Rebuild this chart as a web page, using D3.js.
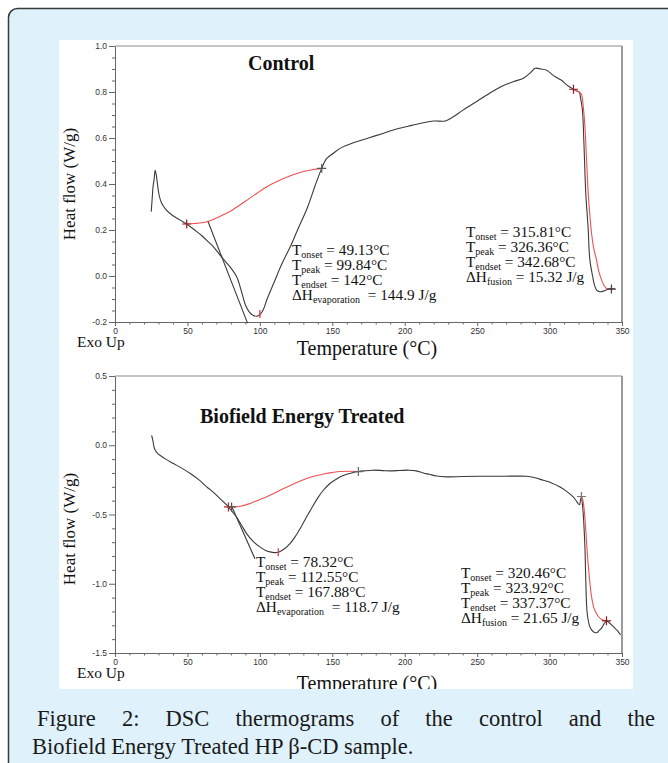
<!DOCTYPE html>
<html><head><meta charset="utf-8">
<script src="https://cdn.jsdelivr.net/npm/d3@7/dist/d3.min.js"></script>
<style>body{margin:0;background:#fff;overflow:hidden}</style>
</head><body><svg id="c" width="668" height="763"></svg>
<script>
// ---------- data ----------
const xTicks = [0, 50, 100, 150, 200, 250, 300, 350];
const topYTicks = [-0.2, 0.0, 0.2, 0.4, 0.6, 0.8, 1.0];
const botYTicks = [-1.5, -1.0, -0.5, 0.0, 0.5];

// Control thermogram [T (°C), heat flow (W/g)]
const controlCurve = [[25.0,0.28],[25.6,0.33],[26.3,0.39],[27.0,0.42],[27.7,0.46],[28.5,0.44],[29.3,0.40],[30.5,0.35],[32,0.32],[35,0.29],[40,0.262],[45,0.243],[49.5,0.226],[55,0.20],[60,0.175],[65,0.145],[68,0.127],[72,0.095],[76,0.065],[80,0.035],[84,-0.003],[87,-0.06],[90,-0.125],[92.5,-0.155],[95,-0.17],[98,-0.175],[100.5,-0.165],[102.5,-0.145],[105,-0.10],[110,-0.025],[115,0.05],[121,0.127],[126,0.20],[133,0.30],[138,0.39],[142.7,0.468],[146,0.51],[151,0.535],[156,0.557],[165,0.58],[175,0.60],[185,0.62],[195,0.64],[205,0.655],[212,0.665],[220,0.674],[228,0.674],[233,0.69],[240,0.72],[250,0.76],[260,0.80],[267,0.825],[275,0.845],[282,0.86],[287,0.885],[290,0.903],[294,0.90],[298,0.895],[303,0.87],[308,0.852],[312,0.83],[316.5,0.812],[318.5,0.805],[320.4,0.80],[321.5,0.77],[322.7,0.72],[323.7,0.58],[325,0.36],[326.6,0.21],[327.8,0.07],[329.7,0.0],[331,-0.04],[332.4,-0.06],[334,-0.067],[335.9,-0.068],[338,-0.064],[339.3,-0.06],[341,-0.055],[342.7,-0.053],[345,-0.057]];
const controlEvapBase = [[49.5,0.226],[55,0.228],[63.5,0.236],[72,0.258],[80,0.283],[90,0.325],[98,0.36],[106,0.392],[114,0.417],[122,0.438],[130,0.454],[136,0.462],[142.7,0.468]];
const controlTangent = [[64,0.24],[91.5,-0.205]];
const controlFusionBase = [[316.5,0.812],[318.5,0.806],[320.4,0.80],[322,0.79],[323.2,0.74],[324.4,0.65],[325.5,0.51],[326.7,0.36],[328,0.25],[329,0.185],[330.5,0.12],[332.4,0.07],[334,0.02],[335.9,-0.017],[337.5,-0.04],[339.3,-0.054],[341,-0.058],[342.7,-0.058]];
const controlCrosses = [[49.5,0.226,"#8b1c1c"],[142.7,0.468,"#555"],[316.5,0.812,"#8b1c1c"],[342.7,-0.057,"#444"]];
const controlPeakTicks = [[100,-0.165]];

// Biofield Energy Treated thermogram
const treatedCurve = [[25.3,0.072],[25.8,0.05],[26.4,0.02],[26.9,-0.012],[28,-0.04],[29.5,-0.06],[31,-0.072],[35,-0.10],[40,-0.13],[46,-0.165],[52,-0.204],[58,-0.25],[63.3,-0.30],[68,-0.34],[72.5,-0.385],[76,-0.42],[78.3,-0.445],[81,-0.48],[84,-0.52],[87.5,-0.58],[91,-0.64],[95,-0.69],[100,-0.734],[104,-0.76],[107,-0.77],[110,-0.775],[112.7,-0.772],[116,-0.755],[120.8,-0.71],[125,-0.65],[129,-0.58],[132.3,-0.517],[136,-0.45],[140,-0.38],[143.8,-0.325],[148,-0.28],[152,-0.25],[155.3,-0.229],[160,-0.21],[164,-0.198],[168,-0.19],[172,-0.185],[178,-0.18],[185,-0.183],[190,-0.185],[196.7,-0.182],[203,-0.18],[208,-0.185],[212.8,-0.2],[217,-0.21],[222,-0.222],[229,-0.228],[240,-0.226],[252,-0.224],[265,-0.224],[275,-0.223],[284,-0.224],[290,-0.235],[295.6,-0.253],[301,-0.27],[307,-0.30],[312,-0.335],[316.3,-0.373],[319,-0.41],[320.6,-0.43],[321.3,-0.40],[322,-0.37],[322.6,-0.42],[323.2,-0.49],[324.4,-0.734],[325,-0.974],[326,-1.215],[327.8,-1.31],[330,-1.345],[332.4,-1.354],[334,-1.34],[335.9,-1.32],[337.6,-1.29],[339.3,-1.268],[341,-1.28],[344,-1.31],[347,-1.34],[349,-1.37]];
const treatedEvapBase = [[78.3,-0.445],[82,-0.445],[86.3,-0.44],[92,-0.425],[98,-0.40],[104,-0.375],[109.2,-0.35],[115,-0.32],[121,-0.29],[127,-0.262],[132.3,-0.24],[138,-0.222],[144,-0.207],[150,-0.197],[155.3,-0.19],[162,-0.188],[168,-0.19]];
const treatedTangent = [[80.5,-0.44],[96.6,-0.82]];
const treatedFusionBase = [[322,-0.37],[322.8,-0.39],[323.7,-0.445],[325,-0.613],[326.6,-0.854],[329,-1.095],[330.5,-1.17],[332.4,-1.215],[334,-1.24],[335.9,-1.258],[339.3,-1.268]];
const treatedCrosses = [[78.3,-0.445,"#c02020"],[80.5,-0.445,"#555"],[168,-0.19,"#666"],[322,-0.37,"#777"],[339.3,-1.268,"#8b1c1c"]];
const treatedPeakTicks = [[112.7,-0.772]];

const controlLeftText = [["T","onset"," = 49.13°C"],["T","peak"," = 99.84°C"],["T","endset"," = 142°C"],["ΔH","evaporation","  = 144.9 J/g"]];
const controlRightText = [["T","onset"," = 315.81°C"],["T","peak"," = 326.36°C"],["T","endset"," = 342.68°C"],["ΔH","fusion"," = 15.32 J/g"]];
const treatedLeftText = [["T","onset"," = 78.32°C"],["T","peak"," = 112.55°C"],["T","endset"," = 167.88°C"],["ΔH","evaporation","  = 118.7 J/g"]];
const treatedRightText = [["T","onset"," = 320.46°C"],["T","peak"," = 323.92°C"],["T","endset"," = 337.37°C"],["ΔH","fusion"," = 21.65 J/g"]];

const captionLine1 = ["Figure", "2:", "DSC", "thermograms", "of", "the", "control", "and", "the"];
const captionLine2 = "Biofield Energy Treated HP β-CD sample.";

// ---------- drawing ----------
const svg = d3.select("#c");
const SERIF = "'Liberation Serif','Times New Roman',serif";
const SANS = "'Liberation Sans',Arial,sans-serif";

svg.append("rect").attr("x",8.5).attr("y",8.5).attr("width",720).attr("height",820)
  .attr("rx",9).attr("fill","#dff1fb").attr("stroke","#3a3a3a").attr("stroke-width",1.5);
svg.append("rect").attr("x",59).attr("y",40).attr("width",574).attr("height",649).attr("fill","#fff");
svg.append("clipPath").attr("id","wclip").append("rect").attr("x",59).attr("y",40).attr("width",574).attr("height",649);

const x = d3.scaleLinear().domain([0,350]).range([115,622]);
const fmt = d => d.toFixed(1);

function drawChart(o) {
  const g = svg.append("g").attr("clip-path","url(#wclip)");
  const y = d3.scaleLinear().domain(o.yDomain).range([o.yBottom, o.yTop]);

  g.append("line").attr("x1",115).attr("x2",622).attr("y1",o.yTop).attr("y2",o.yTop).attr("stroke","#8a8a8a").attr("stroke-width",1);
  g.append("line").attr("x1",622).attr("x2",622).attr("y1",o.yTop).attr("y2",o.yBottom).attr("stroke","#9a9a9a").attr("stroke-width",2);

  const yMinor = d3.range(o.yDomain[0], o.yDomain[1] + 1e-9, o.yMinorStep).filter(v => !o.yTicks.some(t => Math.abs(t - v) < 1e-6));
  const xMinor = d3.range(0, 351, 10).filter(v => v % 50 !== 0);
  const ym = g.append("g").attr("transform","translate(115,0)").call(d3.axisLeft(y).tickValues(yMinor).tickSize(3).tickFormat(""));
  ym.select(".domain").remove();
  const xm = g.append("g").attr("transform",`translate(0,${o.yBottom})`).call(d3.axisBottom(x).tickValues(xMinor).tickSize(2.5).tickFormat(""));
  xm.select(".domain").remove();

  const ya = g.append("g").attr("transform","translate(115,0)")
    .call(d3.axisLeft(y).tickValues(o.yTicks).tickFormat(fmt).tickSize(6).tickSizeOuter(0).tickPadding(2));
  const xa = g.append("g").attr("transform",`translate(0,${o.yBottom})`)
    .call(d3.axisBottom(x).tickValues(xTicks).tickSize(4).tickSizeOuter(0).tickPadding(2));
  [ya, xa, ym, xm].forEach(a => {
    a.selectAll("path,line").attr("stroke","#666");
    a.selectAll("text").attr("font-family",SANS).attr("font-size",8.5).attr("fill","#333");
  });

  g.append("text").attr("transform",`translate(75,${o.yLabelY}) rotate(-90)`).attr("text-anchor","middle")
    .attr("font-family",SERIF).attr("font-size",17).attr("fill","#111").text("Heat flow (W/g)");
  g.append("text").attr("x",77).attr("y",o.exoY).attr("font-family",SERIF).attr("font-size",15.5).attr("fill","#111").text("Exo Up");
  g.append("text").attr("x",367).attr("y",o.tempY).attr("text-anchor","middle").attr("font-family",SERIF).attr("font-size",20).attr("fill","#111").text("Temperature (°C)");
  g.append("text").attr("x",o.titleX).attr("y",o.titleY).attr("font-family",SERIF).attr("font-weight","bold").attr("font-size",20).attr("fill","#111").text(o.title);

  const line = d3.line().x(d => x(d[0])).y(d => y(d[1])).curve(d3.curveCatmullRom.alpha(0.5));
  const straight = d3.line().x(d => x(d[0])).y(d => y(d[1]));

  g.append("path").attr("d",line(o.curve)).attr("fill","none").attr("stroke","#3a3a3a").attr("stroke-width",1.1);
  g.append("path").attr("d",straight(o.tangent)).attr("fill","none").attr("stroke","#3a3a3a").attr("stroke-width",1.1);
  g.append("path").attr("d",line(o.evapBase)).attr("fill","none").attr("stroke","#f05050").attr("stroke-width",1.1);
  g.append("path").attr("d",line(o.fusionBase)).attr("fill","none").attr("stroke","#f05050").attr("stroke-width",1.1);

  o.crosses.forEach(c => {
    const cx = x(c[0]), cy = y(c[1]);
    g.append("path").attr("d",`M${cx-4.5},${cy}H${cx+4.5}M${cx},${cy-4.5}V${cy+4.5}`).attr("stroke",c[2]).attr("stroke-width",1.2);
  });
  o.peakTicks.forEach(c => {
    const cx = x(c[0]), cy = y(c[1]);
    g.append("path").attr("d",`M${cx},${cy-4}V${cy+4}`).attr("stroke","#e03030").attr("stroke-width",1.2);
  });

  function block(lines, bx, by) {
    lines.forEach((l, i) => {
      const t = g.append("text").attr("x",bx).attr("y",by + i*15).attr("font-family",SERIF).attr("font-size",15.3).attr("fill","#111");
      t.append("tspan").text(l[0]);
      t.append("tspan").attr("font-size",10).attr("dy",3).text(l[1]);
      t.append("tspan").attr("dy",-3).style("white-space","pre").text(l[2]);
    });
  }
  block(o.leftText, o.leftX, o.leftY);
  block(o.rightText, o.rightX, o.rightY);
}

drawChart({yDomain:[-0.2,1.0], yTop:46, yBottom:322, yTicks:topYTicks, yMinorStep:0.05, yLabelY:184,
  exoY:347, tempY:355, title:"Control", titleX:248, titleY:70,
  curve:controlCurve, tangent:controlTangent, evapBase:controlEvapBase, fusionBase:controlFusionBase,
  crosses:controlCrosses, peakTicks:controlPeakTicks,
  leftText:controlLeftText, leftX:292, leftY:255, rightText:controlRightText, rightX:466, rightY:237});

drawChart({yDomain:[-1.5,0.5], yTop:376, yBottom:653, yTicks:botYTicks, yMinorStep:0.1, yLabelY:529,
  exoY:678, tempY:690, title:"Biofield Energy Treated", titleX:200, titleY:423,
  curve:treatedCurve, tangent:treatedTangent, evapBase:treatedEvapBase, fusionBase:treatedFusionBase,
  crosses:treatedCrosses, peakTicks:treatedPeakTicks,
  leftText:treatedLeftText, leftX:256, leftY:567, rightText:treatedRightText, rightX:461, rightY:578});

// caption (line 1 justified word by word)
const capG = svg.append("g").attr("font-family",SERIF).attr("font-size",22.5).attr("fill","#1a1a1a");
const words = captionLine1.map(w => capG.append("text").attr("y",726).text(w));
const widths = words.map(t => t.node().getComputedTextLength());
const total = d3.sum(widths);
const gap = ((655 - 37) - total) / (words.length - 1);
let cx = 37;
words.forEach((t, i) => { t.attr("x", cx); cx += widths[i] + gap; });
capG.append("text").attr("x",32).attr("y",754).text(captionLine2);
</script>
</body></html>
